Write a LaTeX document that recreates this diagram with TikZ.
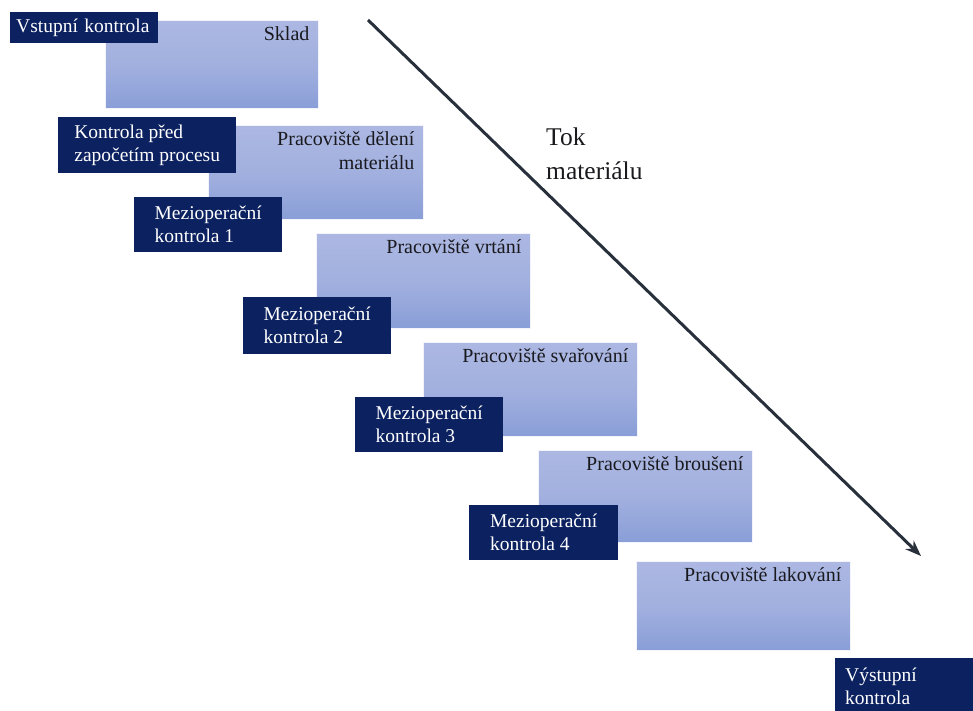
\documentclass[tikz,border=0pt]{standalone}
\usepackage{fontspec}
\setmainfont{Liberation Serif}
\usetikzlibrary{arrows.meta}
\definecolor{navy}{RGB}{12,34,96}
\definecolor{paletop}{RGB}{172,184,226}
\definecolor{palemid}{RGB}{162,176,223}
\definecolor{palebot}{RGB}{137,158,215}
\definecolor{ink}{RGB}{25,25,30}
\definecolor{flow}{RGB}{40,48,60}
\tikzset{
  station/.style={anchor=north west, inner sep=0pt,
    top color=paletop, bottom color=palebot, middle color=palemid,
    draw=white!85!paletop, line width=0.6pt},
  stationtext/.style={anchor=north east, inner sep=0pt, xshift=-9pt, yshift=-6pt,
    align=right, text=ink, execute at begin node={\rule{0pt}{14pt}},
    font=\fontsize{20pt}{24pt}\selectfont},
  checkbox/.style={anchor=north west, fill=navy, text=white, inner xsep=8pt, inner ysep=0pt,
    align=left, font=\fontsize{19.5pt}{23pt}\selectfont},
}
\begin{document}
\begin{tikzpicture}[x=1pt,y=-1pt]
\useasboundingbox (0,0) rectangle (973,711);
\clip (0,0) rectangle (973,711);
% workstations
\node[station, minimum width=213pt, minimum height=88pt] (sklad) at (105,20) {};
\node[stationtext] at (sklad.north east) {Sklad};
\node[station, minimum width=215pt, minimum height=94pt] (deleni) at (208,125) {};
\node[stationtext] at (deleni.north east) {Pracoviště dělení\\materiálu};
\node[station, minimum width=214pt, minimum height=95pt] (vrtani) at (316,233) {};
\node[stationtext] at (vrtani.north east) {Pracoviště vrtání};
\node[station, minimum width=214pt, minimum height=94pt] (svar) at (423,342) {};
\node[stationtext] at (svar.north east) {Pracoviště svařování};
\node[station, minimum width=214pt, minimum height=92pt] (brus) at (538,450) {};
\node[stationtext] at (brus.north east) {Pracoviště broušení};
\node[station, minimum width=214pt, minimum height=89pt] (lak) at (636,561) {};
\node[stationtext] at (lak.north east) {Pracoviště lakování};
% inspections
\node[checkbox, minimum width=148pt, minimum height=31pt, text width=136pt, inner xsep=6pt] (vstup) at (10,12) {Vstupní kontrola};
\node[checkbox, minimum width=178pt, minimum height=56pt] (pred) at (58,117) {Kontrola před\\započetím procesu};
\node[checkbox, minimum width=148pt, minimum height=55pt] (k1) at (134,197) {Mezioperační\\kontrola 1};
\node[checkbox, minimum width=148pt, minimum height=57pt] (k2) at (243,297) {Mezioperační\\kontrola 2};
\node[checkbox, minimum width=148pt, minimum height=55pt] (k3) at (355,397) {Mezioperační\\kontrola 3};
\node[checkbox, minimum width=149pt, minimum height=55pt] (k4) at (469,505) {Mezioperační\\kontrola 4};
\node[checkbox, minimum width=160pt, minimum height=56pt, text width=140pt] (vystup) at (835,658) {Výstupní\\kontrola};
% material flow
\coordinate (flowstart) at (368,20);
\coordinate (flowend) at (921,556);
\draw[flow, line width=3pt, -{Stealth[length=16pt,width=12pt]}] (flowstart) -- (flowend);
\node[anchor=north west, inner sep=0pt, align=left, text=ink,
  font=\fontsize{25.5pt}{34pt}\selectfont, execute at begin node={\rule{0pt}{19pt}}] (tok) at (546,128) {Tok\\materiálu};
\end{tikzpicture}
\end{document}
